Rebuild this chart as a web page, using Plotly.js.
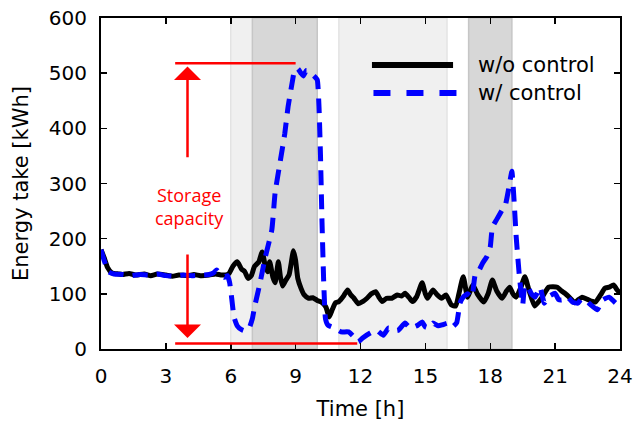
<!DOCTYPE html>
<html>
<head>
<meta charset="utf-8">
<script src="https://cdn.plot.ly/plotly-3.0.1.min.js"></script>
<style>html,body{margin:0;padding:0;background:#fff;}#chart{width:633px;height:423px;}</style>
</head>
<body>
<div id="chart"></div>
<script>
// Time [h] and energy take [kWh] without control
const timeWo = [0,0.15,0.3,0.5,0.8,1.0,1.3,1.6,2.0,2.3,2.6,3.0,3.3,3.6,4.0,4.3,4.6,5.0,5.3,5.6,5.9,6.1,6.3,6.5,6.65,6.8,6.95,7.1,7.3,7.45,7.6,7.7,7.8,7.95,8.05,8.2,8.3,8.4,8.55,8.7,8.9,9.0,9.1,9.25,9.4,9.6,9.8,10.0,10.2,10.4,10.55,10.7,10.85,11.0,11.2,11.4,11.55,11.7,11.9,12.1,12.3,12.5,12.7,12.85,13.0,13.2,13.45,13.7,13.9,14.06,14.25,14.4,14.6,14.85,15.0,15.1,15.35,15.55,15.75,15.95,16.2,16.4,16.55,16.75,16.95,17.1,17.2,17.4,17.7,17.9,18.1,18.3,18.55,18.75,18.9,19.05,19.2,19.4,19.6,19.8,20.05,20.2,20.4,20.7,20.9,21.1,21.3,21.45,21.7,21.9,22.1,22.25,22.5,22.85,23.1,23.3,23.5,23.7,23.85,24.0];
const energyWo = [180,165,148,138,136,135,137,134,136,133,136,134,132,134,133,135,133,134,136,134,136,150,158,145,140,128,133,150,158,176,150,140,158,130,120,158,130,114,125,135,178,160,128,110,98,92,93,88,85,76,58,72,84,86,95,107,98,92,82,86,92,100,104,94,86,92,92,98,96,101,93,86,95,120,100,92,107,98,92,98,80,78,100,131,94,108,116,100,85,100,125,105,92,105,112,100,94,110,131,105,78,84,94,112,113,112,105,101,92,84,90,94,90,85,98,110,112,116,108,101];

// Time [h] and energy take [kWh] with control
const timeW = [0,0.15,0.35,0.6,1.0,1.4,1.8,2.2,2.6,3.0,3.4,3.8,4.2,4.6,5.0,5.2,5.35,5.5,5.7,5.85,5.95,6.05,6.15,6.3,6.5,6.65,6.85,7.0,7.1,7.35,7.6,7.9,8.05,8.3,8.5,8.65,8.85,8.95,9.1,9.25,9.35,9.5,9.65,9.85,10.0,10.08,10.15,10.22,10.3,10.38,10.5,10.8,11.1,11.45,11.75,11.9,12.1,12.45,12.75,13.05,13.3,13.55,13.75,14.06,14.3,14.65,14.85,15.0,15.2,15.35,15.6,15.8,16.05,16.25,16.45,16.6,16.75,16.95,17.15,17.3,17.45,17.65,17.85,18.0,18.1,18.3,18.55,18.7,18.85,19.0,19.1,19.2,19.35,19.5,19.6,19.75,19.9,20.07,20.3,20.5,20.7,21.0,21.15,21.3,21.55,21.8,22.05,22.2,22.4,22.65,22.95,23.2,23.5,23.75,24.0];
const energyW = [180,160,140,136,135,133,135,134,136,133,132,134,133,134,135,138,143,136,130,133,120,90,58,42,35,33,38,55,76,119,167,216,283,343,391,439,485,505,508,500,495,505,502,495,488,440,350,230,120,55,43,38,31,31,20,13,20,29,34,25,38,33,34,47,38,43,49,40,38,47,42,44,47,40,48,83,94,100,94,134,140,156,168,185,221,235,252,261,290,322,270,203,131,80,115,112,100,94,112,83,95,101,90,89,95,85,83,90,89,80,71,89,94,85,76];

const seriesNames = ["w/o control", "w/ control"];
const xTicks = [0,3,6,9,12,15,18,21,24];
const yTicks = [0,100,200,300,400,500,600];
// shaded periods [start, end] in hours
const lightPeriods = [[6,10],[11,16]];
const darkPeriods = [[7,10],[17,19]];
// storage capacity markers [kWh]
const capTop = 518, capBottom = 10;

const shapes = [];
lightPeriods.forEach(p => shapes.push({type:'rect', xref:'x', yref:'paper', x0:p[0], x1:p[1], y0:0, y1:1, fillcolor:'#f0f0f0', line:{color:'#e3e3e3', width:1.5}, layer:'below'}));
darkPeriods.forEach(p => shapes.push({type:'rect', xref:'x', yref:'paper', x0:p[0], x1:p[1], y0:0, y1:1, fillcolor:'#d7d7d7', line:{color:'#c6c6c6', width:1.5}, layer:'below'}));
// capacity lines
shapes.push({type:'line', xref:'x', yref:'y', x0:3.43, x1:9.0, y0:capTop, y1:capTop, line:{color:'#ff0000', width:2.5}});
shapes.push({type:'line', xref:'x', yref:'y', x0:3.43, x1:11.85, y0:capBottom, y1:capBottom, line:{color:'#ff0000', width:2.5}});
// custom legend samples
shapes.push({type:'line', xref:'x', yref:'y', x0:12.53, x1:16.28, y0:515, y1:515, line:{color:'#000000', width:6}});
shapes.push({type:'line', xref:'x', yref:'y', x0:12.6, x1:16.6, y0:464, y1:464, line:{color:'#0000ff', width:6, dash:'17px,16px'}});

const annotations = [
  {x:4.0, y:512, ax:4.0, ay:345, xref:'x', yref:'y', axref:'x', ayref:'y', showarrow:true, arrowhead:1, arrowsize:1.8, arrowwidth:2.5, arrowcolor:'#ff0000', text:''},
  {x:4.0, y:20, ax:4.0, ay:174, xref:'x', yref:'y', axref:'x', ayref:'y', showarrow:true, arrowhead:1, arrowsize:1.8, arrowwidth:2.5, arrowcolor:'#ff0000', text:''},
  {x:4.1, y:259, xref:'x', yref:'y', showarrow:false, text:'Storage<br>capacity', font:{family:'Open Sans', size:18, color:'#ff0000'}, align:'center'},
  {x:17.34, y:515, xref:'x', yref:'y', xanchor:'left', showarrow:false, text:seriesNames[0], font:{family:'DejaVu Sans', size:21, color:'#000'}},
  {x:17.34, y:464, xref:'x', yref:'y', xanchor:'left', showarrow:false, text:seriesNames[1], font:{family:'DejaVu Sans', size:21, color:'#000'}}
];

const data = [
  {x:timeWo, y:energyWo, type:'scatter', mode:'lines', name:seriesNames[0], line:{color:'#000000', width:5, shape:'spline', smoothing:0.5}},
  {x:timeW, y:energyW, type:'scatter', mode:'lines', name:seriesNames[1], line:{color:'#0000ff', width:5, dash:'15px,9px', shape:'spline', smoothing:0.4}}
];

const layout = {
  width:633, height:423,
  margin:{l:101, r:13, t:18, b:74},
  paper_bgcolor:'#ffffff', plot_bgcolor:'rgba(0,0,0,0)',
  showlegend:false,
  font:{family:'DejaVu Sans', size:20, color:'#000'},
  xaxis:{range:[0,24], tickvals:xTicks, ticktext:xTicks.map(String), ticks:'inside', ticklen:6, tickwidth:1.5, tickcolor:'#000',
    showline:true, linecolor:'#000', linewidth:2, mirror:'ticks', showgrid:false, zeroline:false,
    ticklabelstandoff:8, tickfont:{size:20},
    title:{text:'Time [h]', font:{size:21}, standoff:14}},
  yaxis:{range:[0,600], tickvals:yTicks, ticktext:yTicks.map(String), ticks:'inside', ticklen:6, tickwidth:1.5, tickcolor:'#000',
    showline:true, linecolor:'#000', linewidth:2, mirror:'ticks', showgrid:false, zeroline:false,
    ticklabelstandoff:8, tickfont:{size:20},
    title:{text:'Energy take [kWh]', font:{size:21}, standoff:14}},
  shapes:shapes,
  annotations:annotations
};

Plotly.newPlot('chart', data, layout, {displayModeBar:false, staticPlot:true});
</script>
</body>
</html>
